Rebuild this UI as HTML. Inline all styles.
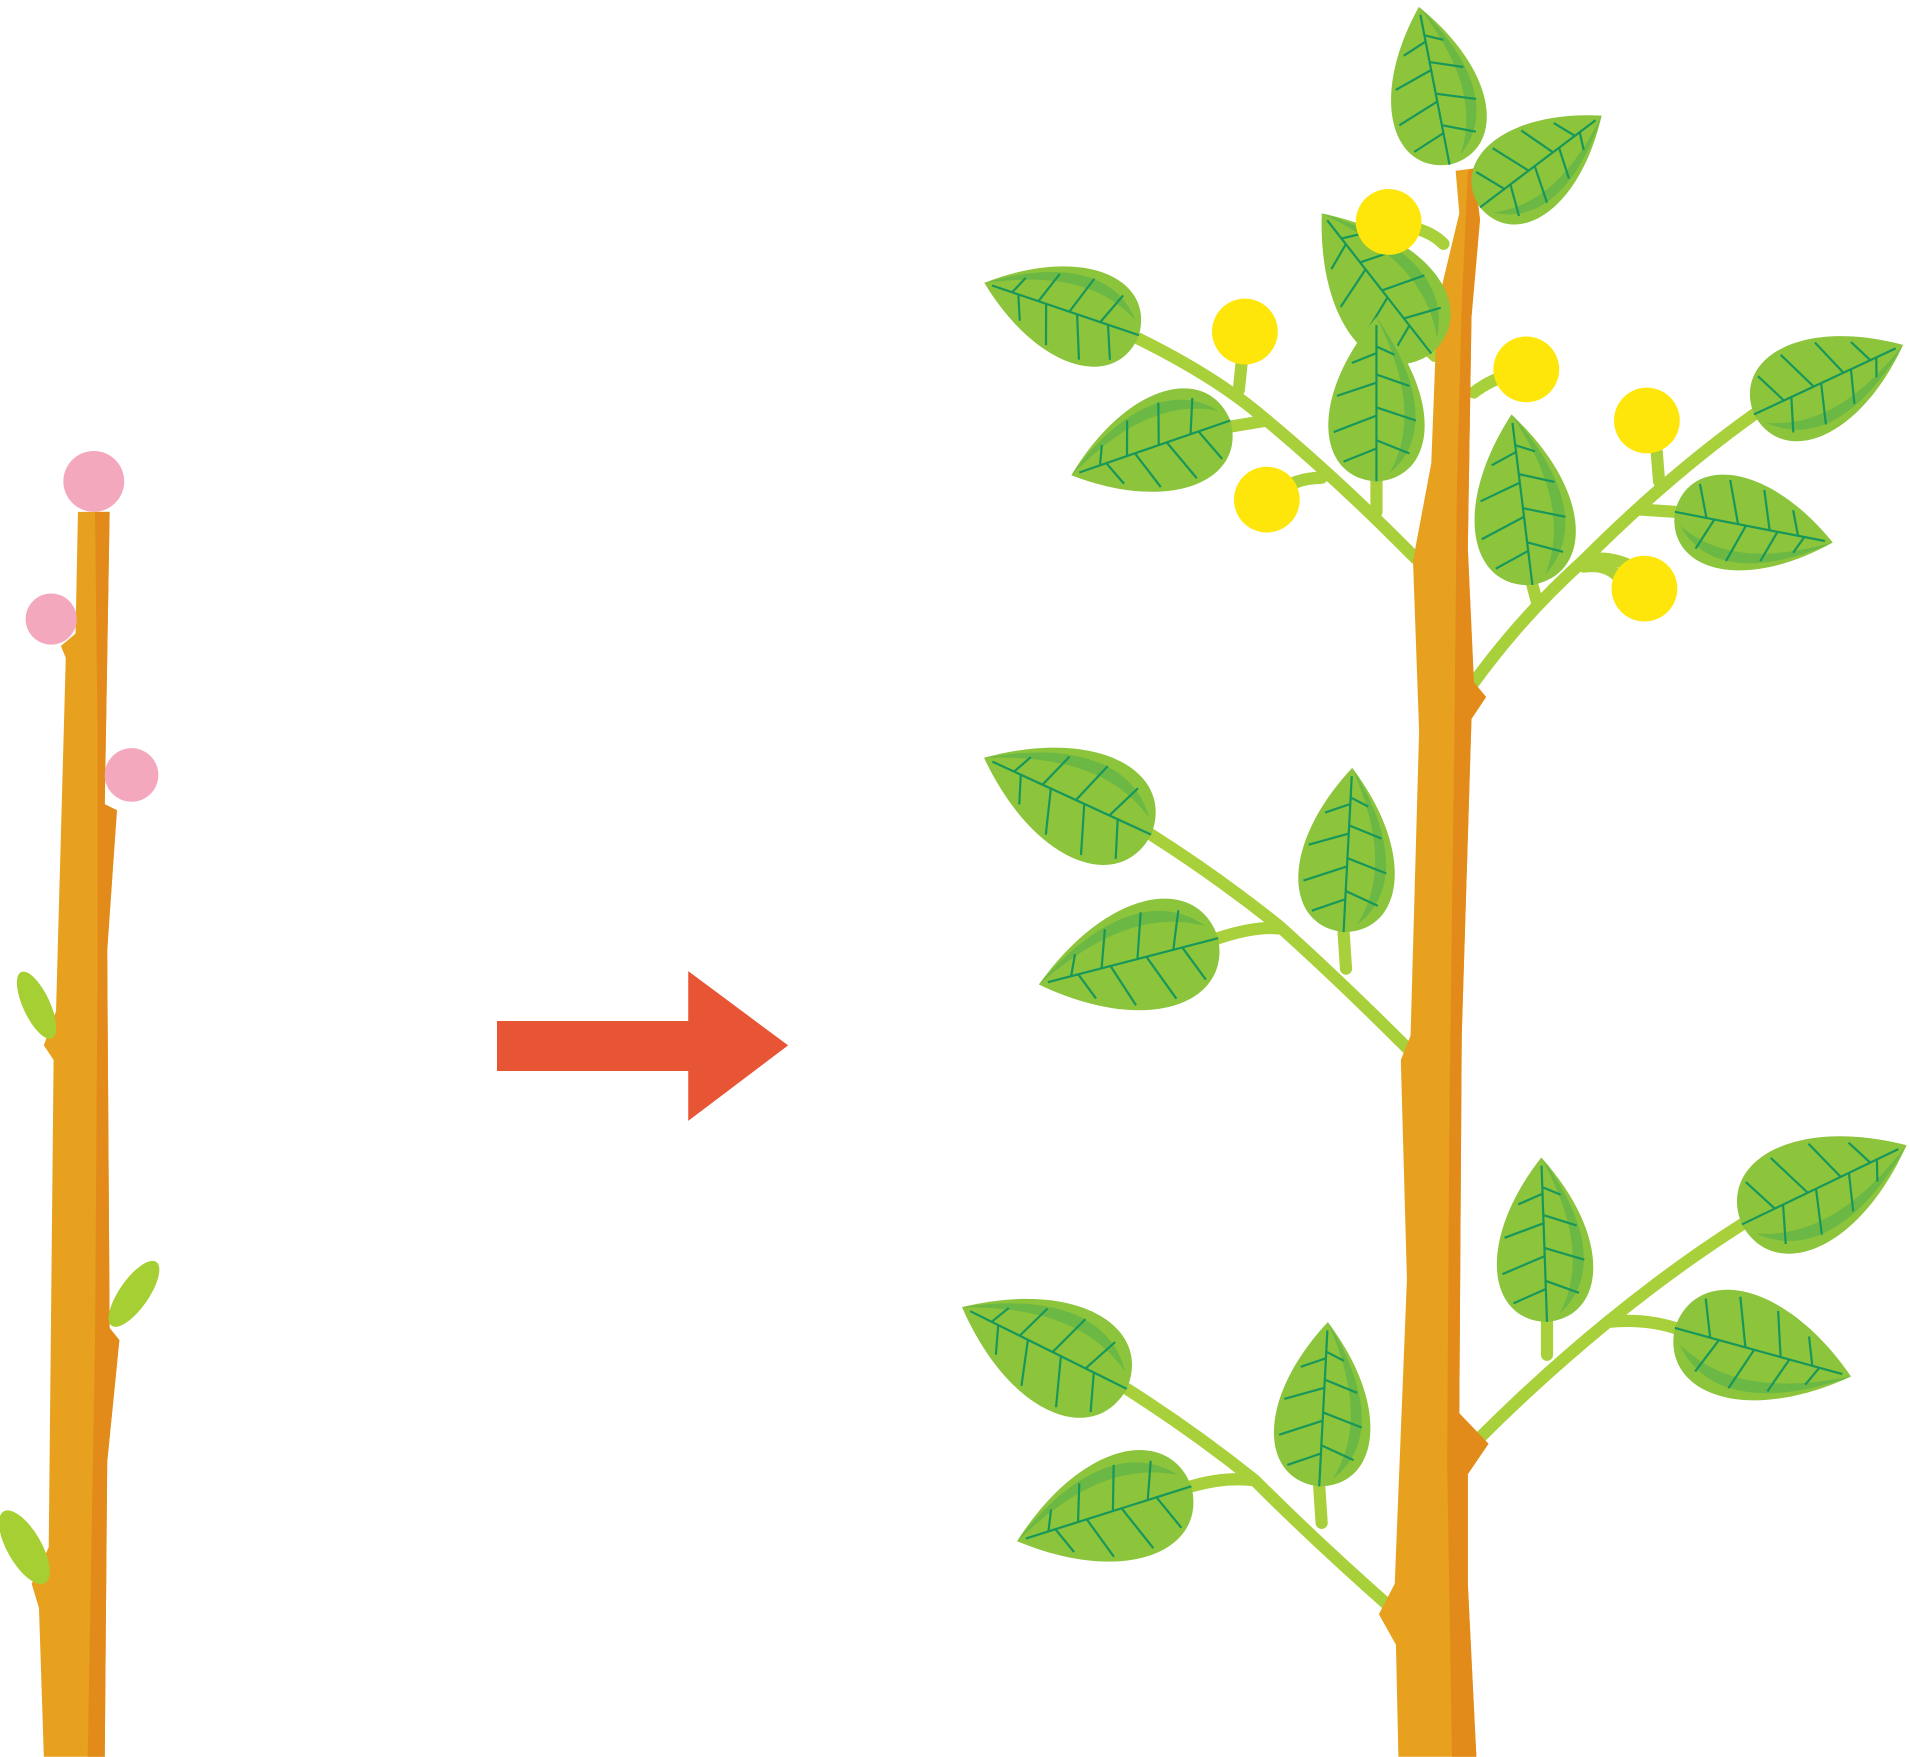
<!DOCTYPE html>
<html><head><meta charset="utf-8"><style>html,body{margin:0;padding:0;background:#fff}svg{display:block}</style></head>
<body>
<svg width="1910" height="1757" viewBox="0 0 1568 1442" xmlns="http://www.w3.org/2000/svg">
<defs>
<g id="leaf">
<path d="M0,0 C0.02,-0.36 0.5,-0.42 1,0 C0.5,0.42 0.02,0.36 0,0 Z" fill="#8cc43c"/>
<path d="M0.05,0.08 C0.25,0.32 0.6,0.28 1,0 C0.6,0.2 0.3,0.22 0.05,0.08Z" fill="#6cb844"/>
<g stroke="#17975a" stroke-width="2.2" fill="none">
<path d="M0,0 L0.95,0" vector-effect="non-scaling-stroke"/>
<path d="M0.2,0 L0.12,-0.2 M0.4,0 L0.3,-0.26 M0.6,0 L0.52,-0.24 M0.78,0 L0.72,-0.15" vector-effect="non-scaling-stroke"/>
<path d="M0.25,0 L0.17,0.2 M0.45,0 L0.37,0.24 M0.65,0 L0.58,0.2 M0.82,0 L0.77,0.11" vector-effect="non-scaling-stroke"/>
</g>
</g>
</defs>
<!-- left stem -->
<path d="M64,420 L90,420 L86,660 L96,665 L88,780 L90,1090 L98,1100 L88,1200 L86,1442 L36,1442 L32,1320 L26,1300 L40,1270 L44,870 L36,858 L46,830 L54,540 L50,530 L62,520 Z" fill="#e8a11e"/>
<path d="M78,420 L90,420 L86,660 L96,665 L88,780 L90,1090 L98,1100 L88,1200 L86,1442 L72,1442 L78,1100 L80,800 L80,600 Z" fill="#e38b1a"/>
<circle cx="77" cy="395" r="25" fill="#f3a8bd"/>
<circle cx="42" cy="508" r="21" fill="#f3a8bd"/>
<circle cx="108" cy="636" r="22" fill="#f3a8bd"/>
<ellipse cx="30" cy="825" rx="11" ry="30" transform="rotate(-25 30 825)" fill="#a5cf33"/>
<ellipse cx="110" cy="1062" rx="12" ry="32" transform="rotate(35 110 1062)" fill="#a5cf33"/>
<ellipse cx="20" cy="1270" rx="14" ry="34" transform="rotate(-30 20 1270)" fill="#a5cf33"/>
<!-- arrow -->
<path d="M408,838 L565,838 L565,797 L647,858 L565,920 L565,879 L408,879 Z" fill="#e85534"/>
<!-- branches -->
<g stroke="#a8d03a" stroke-width="10" fill="none" stroke-linecap="round">
<path d="M935,278 Q1000,310 1040,345 Q1100,395 1162,458"/>
<path d="M1040,345 L1010,350"/>
<path d="M1130,395 L1130,420"/>
<path d="M1210,560 Q1250,505 1300,460 Q1370,390 1440,340"/>
<path d="M1300,460 Q1320,455 1340,465"/>
<path d="M1345,418 L1375,420"/>
<path d="M1258,480 L1262,495"/>
<path d="M945,685 Q1000,720 1050,760 Q1100,805 1155,860"/>
<path d="M1000,770 Q1030,760 1050,762"/>
<path d="M1103,765 L1105,795"/>
<path d="M925,1140 Q980,1175 1030,1215 Q1080,1265 1140,1318"/>
<path d="M978,1220 Q1005,1212 1030,1215"/>
<path d="M1083,1220 L1085,1250"/>
<path d="M1215,1180 Q1265,1130 1320,1085 Q1375,1040 1430,1005"/>
<path d="M1320,1085 Q1350,1082 1375,1090"/>
<path d="M1270,1085 L1270,1112"/>
<path d="M1160,187 Q1175,190 1185,200"/>
<path d="M1022,272 L1017,320"/>
<path d="M1040,410 Q1060,392 1085,392"/>
<path d="M1253,303 Q1225,310 1210,322"/>
<path d="M1360,370 L1362,395"/>
<path d="M1300,465 Q1320,462 1330,475"/>
<path d="M1165,280 L1178,292"/>
</g>
<!-- trunk -->
<path d="M1195,140 L1210,138 L1215,180 L1208,260 L1205,450 L1210,560 L1220,572 L1208,590 L1200,850 L1198,1160 L1222,1185 L1205,1210 L1205,1300 L1212,1442 L1148,1442 L1146,1350 L1132,1325 L1145,1300 L1155,1050 L1150,870 L1158,850 L1165,600 L1160,460 L1175,380 L1180,250 L1198,175 Z" fill="#e8a11e"/>
<path d="M1205,140 L1210,138 L1215,180 L1208,260 L1205,450 L1210,560 L1220,572 L1208,590 L1200,850 L1198,1160 L1222,1185 L1205,1210 L1205,1300 L1212,1442 L1192,1442 L1188,1200 L1190,900 L1194,600 L1196,400 L1200,250 Z" fill="#e38b1a"/>
<!-- leaves -->
<use href="#leaf" transform="translate(1190,135) rotate(-101) scale(132)"/>
<use href="#leaf" transform="translate(1215,170) rotate(-37) scale(125)"/>
<use href="#leaf" transform="translate(1175,290) rotate(-128) scale(146)"/>
<use href="#leaf" transform="translate(1130,395) rotate(-90) scale(135)"/>
<use href="#leaf" transform="translate(935,275) rotate(198.7) scale(134)"/>
<use href="#leaf" transform="translate(1010,345) rotate(161) scale(138)"/>
<use href="#leaf" transform="translate(1258,480) rotate(-97) scale(141)"/>
<use href="#leaf" transform="translate(1440,340) rotate(-25) scale(135)"/>
<use href="#leaf" transform="translate(1375,420) rotate(11) scale(132)"/>
<use href="#leaf" transform="translate(945,685) rotate(204.7) scale(151)"/>
<use href="#leaf" transform="translate(1103,765) rotate(-87) scale(135)"/>
<use href="#leaf" transform="translate(1000,770) rotate(165.5) scale(152)"/>
<use href="#leaf" transform="translate(1270,1085) rotate(-92) scale(135)"/>
<use href="#leaf" transform="translate(1430,1005) rotate(-25.7) scale(150)"/>
<use href="#leaf" transform="translate(1375,1090) rotate(15.4) scale(150)"/>
<use href="#leaf" transform="translate(925,1140) rotate(206.4) scale(151)"/>
<use href="#leaf" transform="translate(1083,1220) rotate(-87) scale(135)"/>
<use href="#leaf" transform="translate(978,1220) rotate(162.5) scale(150)"/>
<!-- flowers -->
<g fill="#ffe60a">
<circle cx="1140" cy="182" r="27"/>
<circle cx="1022" cy="272" r="27"/>
<circle cx="1040" cy="410" r="27"/>
<circle cx="1253" cy="303" r="27"/>
<circle cx="1352" cy="345" r="27"/>
<circle cx="1350" cy="483" r="27"/>
</g>
</svg>
</body></html>
